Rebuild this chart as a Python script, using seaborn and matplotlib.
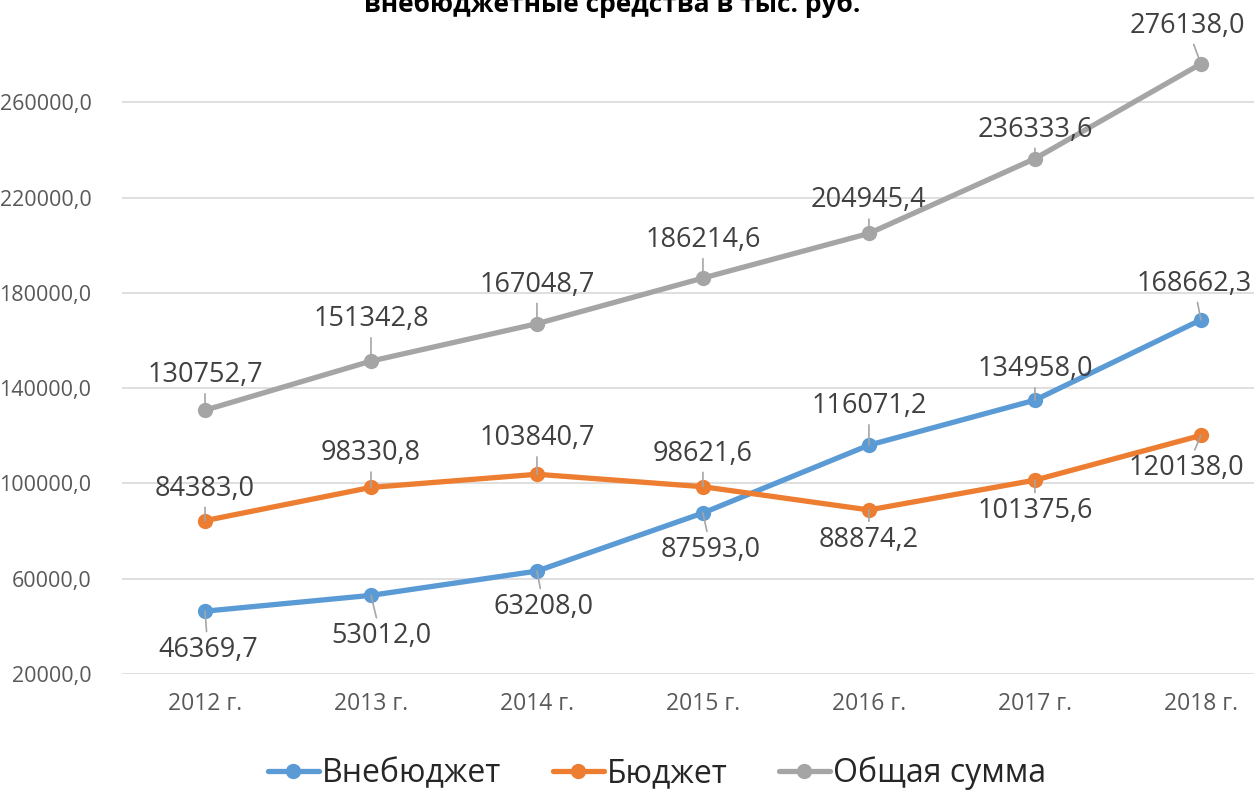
import pandas as pd
import seaborn as sns
import matplotlib.pyplot as plt

# data
years = ['2012 г.', '2013 г.', '2014 г.', '2015 г.', '2016 г.', '2017 г.', '2018 г.']
vnebudzhet = [46369.7, 53012.0, 63208.0, 87593.0, 116071.2, 134958.0, 168662.3]
budzhet = [84383.0, 98330.8, 103840.7, 98621.6, 88874.2, 101375.6, 120138.0]
obshchaya = [130752.7, 151342.8, 167048.7, 186214.6, 204945.4, 236333.6, 276138.0]
series_names = ['Внебюджет', 'Бюджет', 'Общая сумма']
y_ticks = [20000, 60000, 100000, 140000, 180000, 220000, 260000]

colors = ['#5B9BD5', '#ED7D31', '#A5A5A5']

# label offsets in pixels (label centre minus point)
offsets = {
    'Внебюджет': [(3, -39), (10, -41), (7, -36), (8, -37), (0, 39), (0, 31), (-7, 36)],
    'Бюджет': [(0, 32), (0, 34), (0, 36), (0, 33), (0, -30), (0, -31), (-14, -33)],
    'Общая сумма': [(0, 35), (0, 42), (0, 39), (0, 38), (0, 33), (0, 29), (-14, 38)],
}

sns.set_style('white')
plt.rcParams['font.family'] = ['Open Sans', 'DejaVu Sans']

rows = []
for name, vals in zip(series_names, [vnebudzhet, budzhet, obshchaya]):
    for i, v in enumerate(vals):
        rows.append({'idx': i, 'value': v, 'series': name})
df = pd.DataFrame(rows)

fig = plt.figure(figsize=(12.54, 7.91), dpi=100)
ax = fig.add_axes([122 / 1254, 117 / 791, (1254 - 122) / 1254, 667 / 791])

sns.lineplot(data=df, x='idx', y='value', hue='series', hue_order=series_names,
             palette=colors, marker='o', markersize=11, markeredgewidth=0,
             linewidth=3.8, ax=ax, legend=True)

# data labels with leader lines
for name, vals in zip(series_names, [vnebudzhet, budzhet, obshchaya]):
    for i, v in enumerate(vals):
        dx, dy = offsets[name][i]
        ax.annotate(f'{v:.1f}'.replace('.', ','), xy=(i, v), xytext=(dx, dy),
                    textcoords='offset pixels', ha='center', va='center',
                    fontsize=19.5, color='#404040',
                    arrowprops=dict(arrowstyle='-', color='#A6A6A6', lw=1.2,
                                    shrinkA=1, shrinkB=0))

ax.set_xlim(-0.5, 6.32)
ax.set_ylim(20000, 300000)
ax.set_xticks(range(len(years)))
ax.set_xticklabels(years, fontsize=16.5)
ax.set_yticks(y_ticks)
ax.set_yticklabels([f'{t:.1f}'.replace('.', ',') for t in y_ticks], fontsize=15.5)
ax.tick_params(axis='both', labelcolor='#595959', length=0)
ax.tick_params(axis='x', pad=13)
ax.tick_params(axis='y', pad=22)
ax.yaxis.grid(True, color='#D9D9D9', linewidth=1.2)
ax.set_axisbelow(True)
for s in ax.spines.values():
    s.set_visible(False)
ax.set_xlabel('')
ax.set_ylabel('')

# second line of a title whose first line is outside the picture
fig.text(612 / 1254, 1 - 12 / 791, 'внебюджетные средства в тыс. руб.', ha='center',
         va='baseline', fontsize=19, fontweight='bold', color='black')

handles, labels = ax.get_legend_handles_labels()
ax.legend(handles, labels, loc='center', bbox_to_anchor=(657 / 1254, 1 - 773 / 791),
          bbox_transform=fig.transFigure, ncol=3, frameon=False, fontsize=23,
          handlelength=1.6, handletextpad=0.1, columnspacing=1.6)

fig.savefig('out.png', dpi=100)
